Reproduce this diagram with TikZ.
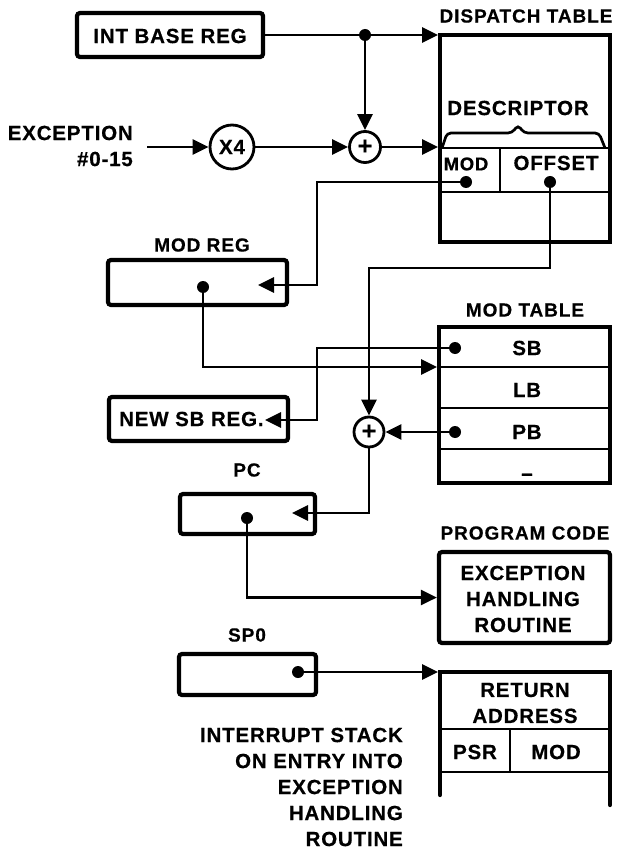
\documentclass[tikz,border=0pt]{standalone}
\usepackage{fontspec}
\setmainfont{Liberation Sans}
\newfontfamily\ctfont{Liberation Sans}[UprightFont={* Bold}, LetterSpace=4, FakeBold=0.5]
\newfontfamily\ttlfont{Liberation Sans}[UprightFont={* Bold}, LetterSpace=5, FakeBold=0.4]
\usetikzlibrary{arrows.meta,calc}
\tikzset{
  lab/.style={font=\fontsize{20.5}{26}\ctfont, inner sep=0pt, align=center},
  ttl/.style={font=\fontsize{19}{24}\ttlfont, inner sep=0pt, align=center},
  regbox/.style={draw, line width=4.2pt, rounded corners=3pt, inner sep=0pt},
  tblbox/.style={draw, line width=4.2pt, inner sep=0pt},
  inner/.style={line width=2.8pt},
  opcirc/.style={draw, circle, line width=2.8pt, inner sep=0pt, font=\fontsize{20.5}{22}\ctfont},
  conn/.style={line width=2.7pt, -{Triangle[length=16pt,width=15pt]}},
  dotc/.style={fill, circle, inner sep=0pt, minimum size=12pt},
}
\begin{document}
\begin{tikzpicture}[x=1pt,y=-1pt]
\useasboundingbox (0,0) rectangle (618,850);

% ---------- boxes ----------
\node[regbox, minimum width=186pt, minimum height=44pt] (intbase) at (170,35) {};
\node[lab] (intbasetxt) at (170,36) {INT BASE REG};

\node[tblbox, minimum width=170pt, minimum height=207pt] (dtab) at (525,138.5) {};
\node[ttl] (dtablbl) at (526,16) {DISPATCH TABLE};
\draw[inner] (440,148) -- (610,148);
\draw[inner] (440,192) -- (610,192);
\draw[inner] (500,148) -- (500,192);
\node[lab] (desc) at (518,108) {DESCRIPTOR};
\draw[line width=2.7pt, rounded corners=4pt] (442,148) -- (447,133) -- (512,133) -- (518,125) -- (524,133) -- (599,133) -- (605,148);
\node[lab, font=\fontsize{18.5}{22}\ctfont] (modtxt) at (466,164) {MOD};
\node[lab] (offtxt) at (556,163) {OFFSET};

\node[regbox, minimum width=179pt, minimum height=45pt] (modreg) at (197.5,282.5) {};
\node[ttl] (modreglbl) at (202,245) {MOD REG};

\node[tblbox, minimum width=171pt, minimum height=156pt] (mtab) at (524.5,405) {};
\node[ttl] (mtablbl) at (525,310) {MOD TABLE};
\draw[inner] (439,367) -- (610,367);
\draw[inner] (439,408) -- (610,408);
\draw[inner] (439,449) -- (610,449);
\node[lab] (sbtxt) at (527,348) {SB};
\node[lab] (lbtxt) at (527,390) {LB};
\node[lab] (pbtxt) at (527,432) {PB};
\node[lab] (nulltxt) at (527,477) {–};

\node[regbox, minimum width=179pt, minimum height=44pt] (newsb) at (198.5,419) {};
\node[lab, anchor=west] (newsbtxt) at (119,419) {NEW SB REG.};

\node[regbox, minimum width=135pt, minimum height=40pt] (pc) at (247.5,514) {};
\node[ttl] (pclbl) at (247,470) {PC};

\node[regbox, minimum width=171pt, minimum height=91pt] (prog) at (524.5,597.5) {};
\node[ttl] (proglbl) at (525,533) {PROGRAM CODE};
\node[lab] (progtxt) at (523,599) {EXCEPTION\\HANDLING\\ROUTINE};

\node[regbox, minimum width=137pt, minimum height=41pt] (sp0) at (247.5,674.5) {};
\node[ttl] (sp0lbl) at (247,635) {SP0};

% stack
\draw[line width=4.2pt, line cap=round] (440,795) -- (440,672) -- (610,672) -- (610,805);
\draw[inner] (440,729) -- (610,729);
\draw[inner] (440,772) -- (610,772);
\draw[inner] (510,729) -- (510,772);
\coordinate (stacktop) at (438,672);
\node[lab] (rettxt) at (525,703) {RETURN\\ADDRESS};
\node[lab] (psrtxt) at (475,752) {PSR};
\node[lab] (smodtxt) at (556,752) {MOD};
\node[lab, align=right, anchor=east] (stacklbl) at (403,787) {INTERRUPT STACK\\ON ENTRY INTO\\EXCEPTION\\HANDLING\\ROUTINE};

% ---------- operators ----------
\node[lab, align=right, anchor=east] (exclbl) at (133,146) {EXCEPTION\\\#0-15};
\node[opcirc, minimum size=44pt] (x4) at (232,147) {X4};
\node[opcirc, minimum size=31pt, font=\fontsize{25}{25}\ctfont] (plus1) at (365,147) {+};
\node[opcirc, minimum size=30pt, font=\fontsize{25}{25}\ctfont] (plus2) at (369,432) {+};

% ---------- dots ----------
\node[dotc] (j1) at (365,35) {};
\node[dotc] (moddot) at (466,182) {};
\node[dotc] (offdot) at (550,182) {};
\node[dotc] (modregdot) at (203,287) {};
\node[dotc] (sbdot) at (455,348) {};
\node[dotc] (pbdot) at (455,432) {};
\node[dotc] (pcdot) at (247,518) {};
\node[dotc] (spdot) at (298,672) {};

\coordinate (excstart) at (147,147);
\coordinate (dtabin) at (438,147);
\coordinate (dtabtop) at (438,35);
\coordinate (modin) at (258,285);
\coordinate (sbin) at (265,420);
\coordinate (pcin) at (292,513);
\coordinate (mtabin) at (437,367);

% ---------- connectors ----------
\draw[conn] (intbase.east) -- (dtabtop);
\draw[conn] (j1.center) -- (plus1.north);
\draw[conn] (excstart) -- (x4.west);
\draw[conn] (x4.east) -- (plus1.west);
\draw[conn] (plus1.east) -- (dtabin);
\draw[conn] (moddot.center) -- (317,182) |- (modin);
\draw[conn] (offdot.center) |- (369,268) -- (plus2.north);
\draw[conn] (modregdot.center) |- (mtabin);
\draw[conn] (sbdot.center) -| (317,420) -- (sbin);
\draw[conn] (pbdot.center) -- (plus2.east);
\draw[conn] (plus2.south) |- (pcin);
\draw[conn] (pcdot.center) |- (prog.west);
\draw[conn] (spdot.center) -- (stacktop);
\end{tikzpicture}
\end{document}
